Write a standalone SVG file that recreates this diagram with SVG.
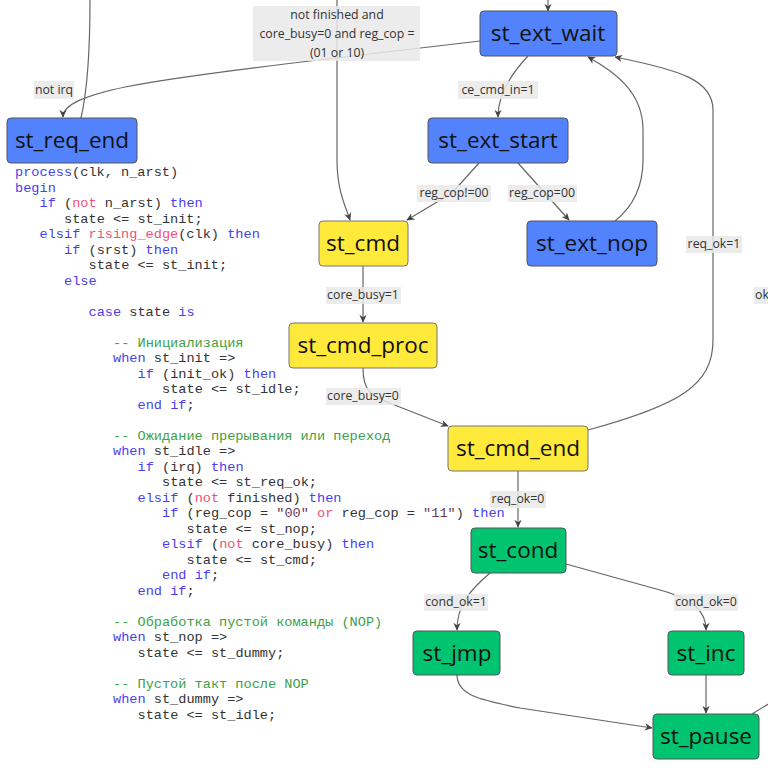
<svg xmlns="http://www.w3.org/2000/svg" width="768" height="768" viewBox="0 0 768 768">
<style>
.nb{fill:#5283fc;stroke:#555;stroke-width:1}
.ny{fill:#ffe93b;stroke:#777;stroke-width:1}
.ng{fill:#00c46f;stroke:#555;stroke-width:1}
.nt{font-family:"Open Sans","Noto Sans",sans-serif;font-size:22.5px;fill:#111;text-anchor:middle}
.e{fill:none;stroke:#666;stroke-width:1.2}
.lb{fill:#e9e9e9;fill-opacity:0.85}
.lt{font-family:"Open Sans","Noto Sans",sans-serif;font-size:12.3px;fill:#333;text-anchor:middle}
.c{font-family:"Liberation Mono","Courier New",monospace;font-size:13.6px;fill:#333}
.k{fill:#4a3df0}
.r{fill:#f0507a}
.s{fill:#6a3a60}
.m{fill:#3ea043}
</style>
<defs>
<marker id="ah" viewBox="0 0 10 10" refX="9" refY="5" markerWidth="8" markerHeight="8" markerUnits="userSpaceOnUse" orient="auto">
<path d="M0,0.5 L10,5 L0,9.5 L3,5 z" fill="#444"/>
</marker>
</defs>
<rect width="768" height="768" fill="#ffffff"/>

<g id="connectors">
<path class="e" d="M81 118 C87 92 90 60 90 0"/>
<path class="e" d="M480 41 L310 61 C150 80 63 92 63 117" marker-end="url(#ah)"/>
<path class="e" d="M337 0 L337 160 C337 190 345 205 350 220" marker-end="url(#ah)"/>
<path class="e" d="M548 0 L548 11" marker-end="url(#ah)"/>
<path class="e" d="M528 56 C510 75 498 95 498 117" marker-end="url(#ah)"/>
<path class="e" d="M479 163 L452 193 L407 220" marker-end="url(#ah)"/>
<path class="e" d="M518 163 L569 220" marker-end="url(#ah)"/>
<path class="e" d="M615 221 C635 205 643 185 643 160 L643 130 C643 92 615 72 588 57" marker-end="url(#ah)"/>
<path class="e" d="M588 430 C680 405 713 385 713 340 L713 110 C713 80 680 70 615 57" marker-end="url(#ah)"/>
<path class="e" d="M363 266 L363 322" marker-end="url(#ah)"/>
<path class="e" d="M363 368 C363 390 370 396 392 404 L448 426" marker-end="url(#ah)"/>
<path class="e" d="M518 471 L518 527" marker-end="url(#ah)"/>
<path class="e" d="M490 573 C470 590 457 605 457 630" marker-end="url(#ah)"/>
<path class="e" d="M566 564 L660 590 C695 600 706 612 706 630" marker-end="url(#ah)"/>
<path class="e" d="M457 675 C457 695 480 700 520 708 L652 728" marker-end="url(#ah)"/>
<path class="e" d="M706 675 L706 713" marker-end="url(#ah)"/>
<path class="e" d="M752 714 L770 703"/>
</g>

<g id="edge-labels">
<rect class="lb" x="253" y="6" width="167" height="55"/>
<text class="lt" x="337" y="19">not finished and</text>
<text class="lt" x="337" y="38">core_busy=0 and reg_cop =</text>
<text class="lt" x="337" y="57">(01 or 10)</text>
<rect class="lb" x="34" y="81" width="40" height="18"/>
<text class="lt" x="54" y="94">not irq</text>
<rect class="lb" x="458" y="81" width="80" height="18"/>
<text class="lt" x="498" y="94">ce_cmd_in=1</text>
<rect class="lb" x="417" y="185" width="74" height="17"/>
<text class="lt" x="454" y="197">reg_cop!=00</text>
<rect class="lb" x="508" y="185" width="69" height="17"/>
<text class="lt" x="542" y="197">reg_cop=00</text>
<rect class="lb" x="686" y="236" width="56" height="17"/>
<text class="lt" x="714" y="248">req_ok=1</text>
<rect class="lb" x="754" y="287" width="20" height="17"/>
<text class="lt" x="755" y="299" style="text-anchor:start">ok</text>
<rect class="lb" x="326" y="287" width="75" height="17"/>
<text class="lt" x="363" y="299">core_busy=1</text>
<rect class="lb" x="326" y="388" width="75" height="17"/>
<text class="lt" x="363" y="400">core_busy=0</text>
<rect class="lb" x="490" y="491" width="56" height="17"/>
<text class="lt" x="518" y="503">req_ok=0</text>
<rect class="lb" x="424" y="594" width="64" height="17"/>
<text class="lt" x="456" y="606">cond_ok=1</text>
<rect class="lb" x="674" y="594" width="64" height="17"/>
<text class="lt" x="706" y="606">cond_ok=0</text>
</g>

<g id="st_req_end"><rect class="nb" x="7" y="118" width="130" height="45" rx="4"/><text class="nt" x="72" y="148">st_req_end</text></g>
<g id="st_ext_wait"><rect class="nb" x="480" y="11" width="137" height="45" rx="4"/><text class="nt" x="548" y="41">st_ext_wait</text></g>
<g id="st_ext_start"><rect class="nb" x="428" y="118" width="140" height="45" rx="4"/><text class="nt" x="498" y="148">st_ext_start</text></g>
<g id="st_cmd"><rect class="ny" x="319" y="221" width="89" height="45" rx="4"/><text class="nt" x="363" y="251">st_cmd</text></g>
<g id="st_ext_nop"><rect class="nb" x="527" y="221" width="130" height="45" rx="4"/><text class="nt" x="592" y="251">st_ext_nop</text></g>
<g id="st_cmd_proc"><rect class="ny" x="289" y="323" width="148" height="45" rx="4"/><text class="nt" x="363" y="353">st_cmd_proc</text></g>
<g id="st_cmd_end"><rect class="ny" x="448" y="426" width="140" height="45" rx="4"/><text class="nt" x="518" y="456">st_cmd_end</text></g>
<g id="st_cond"><rect class="ng" x="471" y="528" width="95" height="45" rx="4"/><text class="nt" x="518" y="558">st_cond</text></g>
<g id="st_jmp"><rect class="ng" x="413" y="631" width="87" height="44" rx="4"/><text class="nt" x="457" y="661">st_jmp</text></g>
<g id="st_inc"><rect class="ng" x="668" y="631" width="76" height="44" rx="4"/><text class="nt" x="706" y="661">st_inc</text></g>
<g id="st_pause"><rect class="ng" x="653" y="714" width="106" height="45" rx="4"/><text class="nt" x="706" y="744">st_pause</text></g>

<g id="code" class="c">
<text x="15" y="176"><tspan class="k">process</tspan>(clk, n_arst)</text>
<text x="15" y="191.5"><tspan class="k">begin</tspan></text>
<text x="39.5" y="207"><tspan class="k">if</tspan> (<tspan class="r">not</tspan> n_arst) <tspan class="k">then</tspan></text>
<text x="64" y="222.5">state &lt;= st_init;</text>
<text x="39.5" y="238"><tspan class="k">elsif</tspan> <tspan class="r">rising_edge</tspan>(clk) <tspan class="k">then</tspan></text>
<text x="64" y="253.5"><tspan class="k">if</tspan> (srst) <tspan class="k">then</tspan></text>
<text x="88.5" y="269">state &lt;= st_init;</text>
<text x="64" y="284.5"><tspan class="k">else</tspan></text>
<text x="88.5" y="315.5"><tspan class="k">case</tspan> state <tspan class="k">is</tspan></text>
<text x="113" y="346.5" class="m">-- Инициализация</text>
<text x="113" y="362"><tspan class="k">when</tspan> st_init =&gt;</text>
<text x="137.5" y="377.5"><tspan class="k">if</tspan> (init_ok) <tspan class="k">then</tspan></text>
<text x="162" y="393">state &lt;= st_idle;</text>
<text x="137.5" y="408.5"><tspan class="k">end if</tspan>;</text>
<text x="113" y="439.5" class="m">-- Ожидание прерывания или переход</text>
<text x="113" y="455"><tspan class="k">when</tspan> st_idle =&gt;</text>
<text x="137.5" y="470.5"><tspan class="k">if</tspan> (irq) <tspan class="k">then</tspan></text>
<text x="162" y="486">state &lt;= st_req_ok;</text>
<text x="137.5" y="501.5"><tspan class="k">elsif</tspan> (<tspan class="r">not</tspan> finished) <tspan class="k">then</tspan></text>
<text x="162" y="517"><tspan class="k">if</tspan> (reg_cop = <tspan class="s">"00"</tspan> <tspan class="r">or</tspan> reg_cop = <tspan class="s">"11"</tspan>) <tspan class="k">then</tspan></text>
<text x="186.5" y="532.5">state &lt;= st_nop;</text>
<text x="162" y="548"><tspan class="k">elsif</tspan> (<tspan class="r">not</tspan> core_busy) <tspan class="k">then</tspan></text>
<text x="186.5" y="563.5">state &lt;= st_cmd;</text>
<text x="162" y="579"><tspan class="k">end if</tspan>;</text>
<text x="137.5" y="594.5"><tspan class="k">end if</tspan>;</text>
<text x="113" y="625.5" class="m">-- Обработка пустой команды (NOP)</text>
<text x="113" y="641"><tspan class="k">when</tspan> st_nop =&gt;</text>
<text x="137.5" y="656.5">state &lt;= st_dummy;</text>
<text x="113" y="687.5" class="m">-- Пустой такт после NOP</text>
<text x="113" y="703"><tspan class="k">when</tspan> st_dummy =&gt;</text>
<text x="137.5" y="718.5">state &lt;= st_idle;</text>
</g>
</svg>
